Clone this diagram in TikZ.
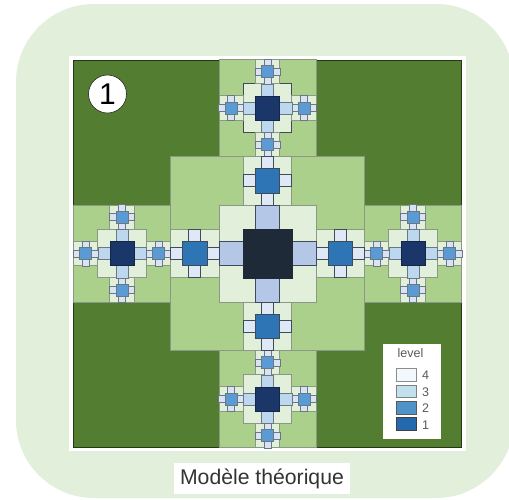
\documentclass[tikz,border=0pt]{standalone}
\usepackage{fontspec}
\setmainfont{Liberation Sans}
\definecolor{bgg}{HTML}{E2EFDA}
\definecolor{dkg}{HTML}{537D30}
\definecolor{midg}{HTML}{AAD08C}
\definecolor{lineg}{HTML}{8A9886}
\definecolor{cdark}{HTML}{1F2A38}
\definecolor{carm}{HTML}{B4C7E7}
\definecolor{lblue}{HTML}{2E75B6}
\definecolor{larm}{HTML}{DEE8F6}
\definecolor{navy}{HTML}{1B3668}
\definecolor{narm}{HTML}{BDD7EE}
\definecolor{sblue}{HTML}{5B9BD5}
\definecolor{sarm}{HTML}{DAE3F3}
\definecolor{edge}{HTML}{3E4C5A}
\definecolor{softedge}{HTML}{6A7884}
\definecolor{legfour}{HTML}{F3F8FD}
\definecolor{legthree}{HTML}{C2E0EE}
\definecolor{legtwo}{HTML}{4F94C8}
\definecolor{legone}{HTML}{2468AE}
\newcommand{\U}{12.125}
% square: centre x, centre y, half size in units, style
\newcommand{\sqr}[4]{\path[#4] ({#1-(#3)*\U},{#2-(#3)*\U}) rectangle ({#1+(#3)*\U},{#2+(#3)*\U});}
% hub with four arms: x, y, half size of hub, hub style, arm style, arm half size
\newcommand{\hub}[6]{%
  \sqr{#1}{#2+1.5*(#3)*\U}{#6}{#5}\sqr{#1}{#2-1.5*(#3)*\U}{#6}{#5}%
  \sqr{#1+1.5*(#3)*\U}{#2}{#6}{#5}\sqr{#1-1.5*(#3)*\U}{#2}{#6}{#5}%
  \sqr{#1}{#2}{#3}{#4}}
\newcommand{\smallhub}[2]{%
  \sqr{#1}{#2}{1}{palesq}\hub{#1}{#2}{0.5}{sbluesq}{sarmsq}{0.28}}
% cluster: x, y, border style of its pale square
\newcommand{\cluster}[3]{%
  \sqr{#1}{#2}{4}{greensq}%
  \sqr{#1}{#2}{2}{#3}%
  \smallhub{#1+3*\U}{#2}\smallhub{#1-3*\U}{#2}\smallhub{#1}{#2+3*\U}\smallhub{#1}{#2-3*\U}%
  \hub{#1}{#2}{1}{navysq}{narmsq}{0.5}}
\newcommand{\midhub}[2]{%
  \sqr{#1}{#2}{2}{palesq}\hub{#1}{#2}{1}{lbluesq}{larmsq}{0.5}}
\tikzset{
  x=1pt,y=-1pt,
  greensq/.style={fill=midg,draw=lineg,line width=0.8pt},
  palesq/.style={fill=bgg,draw=lineg,line width=0.8pt},
  palesqd/.style={fill=bgg,draw=edge,line width=0.7pt},
  carmsq/.style={fill=carm,draw=edge,line width=0.8pt},
  cdarksq/.style={fill=cdark,draw=cdark,line width=0.5pt},
  lbluesq/.style={fill=lblue,draw=edge,line width=0.7pt},
  larmsq/.style={fill=larm,draw=edge,line width=0.7pt},
  navysq/.style={fill=navy,draw=navy!70!black,line width=0.5pt},
  narmsq/.style={fill=narm,draw=softedge,line width=0.5pt},
  sbluesq/.style={fill=sblue,draw=softedge,line width=0.5pt},
  sarmsq/.style={fill=sarm,draw=softedge,line width=0.5pt},
  swatch/.style={line width=1pt},
  legtext/.style={text=black!65,font=\fontsize{12.5}{14}\selectfont,inner sep=0pt},
}
\begin{document}
\begin{tikzpicture}
\useasboundingbox (0,0) rectangle (509,499);
\fill[white] (0,0) rectangle (509,499);
\fill[bgg,rounded corners=78pt] (16,4) rectangle (514,498);
\fill[white] (69,56) rectangle (465.5,450.5);
\path[fill=dkg,draw=black!55!dkg,line width=0.9pt] (73.5,60) rectangle (461.5,447.5);
\def\cx{267.5}\def\cy{253.5}
\cluster{\cx}{\cy-12*\U}{palesqd}
\cluster{\cx}{\cy+12*\U}{palesq}
\cluster{\cx-12*\U}{\cy}{palesq}
\cluster{\cx+12*\U}{\cy}{palesq}
\sqr{\cx}{\cy}{8}{greensq}
\midhub{\cx}{\cy-6*\U}
\midhub{\cx}{\cy+6*\U}
\midhub{\cx-6*\U}{\cy}
\midhub{\cx+6*\U}{\cy}
\sqr{\cx}{\cy}{4}{palesq}
\hub{\cx}{\cy}{2}{cdarksq}{carmsq}{1}
% label disc
\node[circle,fill=white,draw=black!85,line width=0.6pt,minimum size=38pt,inner sep=0pt,font=\fontsize{30}{31}\selectfont] (disc) at (107.5,94) {1};
% legend
\fill[white] (383,344) rectangle (441,439);
\node[legtext] (legtitle) at (410.5,353) {level};
\path[swatch,fill=legfour,draw=black!45] (396.5,368.5) rectangle (416.5,381.5);
\path[swatch,fill=legthree,draw=black!50] (396.5,385) rectangle (416.5,397.5);
\path[swatch,fill=legtwo,draw=black!65] (396.5,401.5) rectangle (416.5,414);
\path[swatch,fill=legone,draw=black!75] (396.5,417.5) rectangle (416.5,430.5);
\node[legtext] (l4) at (425.7,375.5) {4};
\node[legtext] (l3) at (425.7,392) {3};
\node[legtext] (l2) at (425.7,408.5) {2};
\node[legtext] (l1) at (425.7,425) {1};
% caption
\node[fill=white,inner sep=0pt,minimum width=176pt,minimum height=31pt,font=\fontsize{21.2}{24}\selectfont,text=black!80] (cap) at (262,478.5) {Modèle théorique};
\end{tikzpicture}
\end{document}
